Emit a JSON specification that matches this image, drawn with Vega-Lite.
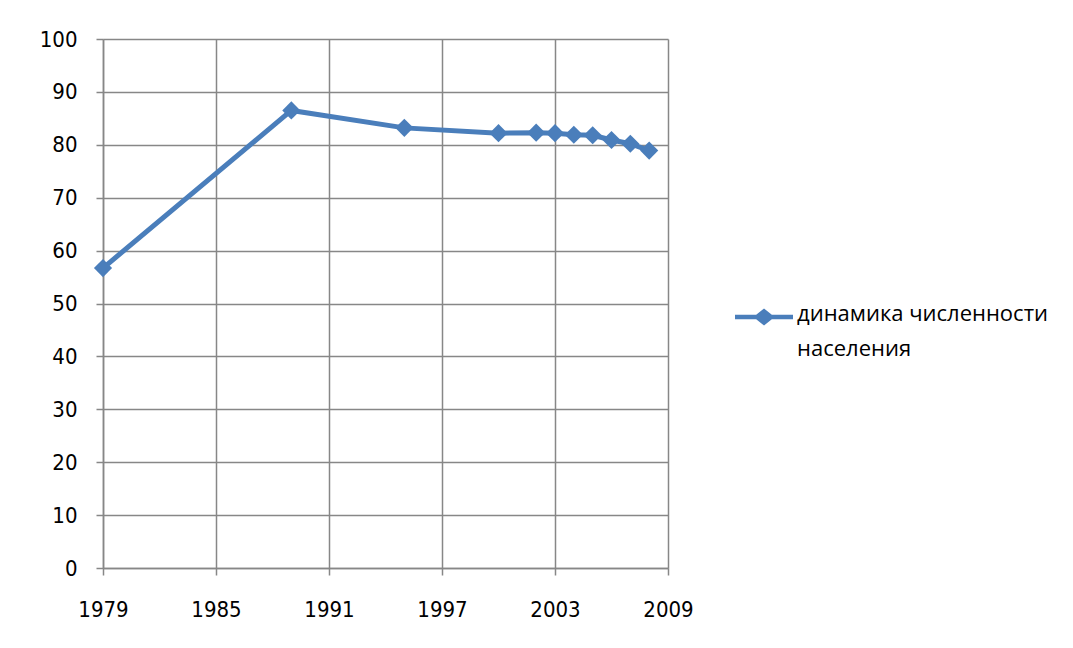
{
  "$schema": "https://vega.github.io/schema/vega-lite/v6.json",
  "autosize": {"type": "none"},
  "padding": {"left": 103, "top": 39, "right": 405, "bottom": 80},
  "width": 565,
  "height": 529,
  "background": "white",
  "config": {
    "view": {"stroke": null},
    "font": "DejaVu Sans Condensed"
  },
  "data": {
    "values": [
      {"year": 1979, "value": 56.7, "series": "динамика численности населения"},
      {"year": 1989, "value": 86.5, "series": "динамика численности населения"},
      {"year": 1995, "value": 83.2, "series": "динамика численности населения"},
      {"year": 2000, "value": 82.2, "series": "динамика численности населения"},
      {"year": 2002, "value": 82.3, "series": "динамика численности населения"},
      {"year": 2003, "value": 82.2, "series": "динамика численности населения"},
      {"year": 2004, "value": 81.9, "series": "динамика численности населения"},
      {"year": 2005, "value": 81.8, "series": "динамика численности населения"},
      {"year": 2006, "value": 80.9, "series": "динамика численности населения"},
      {"year": 2007, "value": 80.2, "series": "динамика численности населения"},
      {"year": 2008, "value": 78.9, "series": "динамика численности населения"}
    ]
  },
  "mark": {"type": "line", "strokeWidth": 5, "point": {"shape": "diamond", "size": 330, "filled": true, "opacity": 1}},
  "encoding": {
    "x": {
      "field": "year", "type": "quantitative",
      "scale": {"domain": [1979, 2009], "nice": false, "zero": false},
      "axis": {
        "title": null, "values": [1979, 1985, 1991, 1997, 2003, 2009], "format": "d",
        "grid": true, "gridColor": "#878787", "gridWidth": 1.5,
        "domainColor": "#878787", "domainWidth": 1.5,
        "tickColor": "#878787", "tickWidth": 1.5, "tickSize": 7,
        "labelFontSize": 22, "labelColor": "#000000", "labelPadding": 24,
        "labelFlush": false, "labelOverlap": false,
        "labelFont": "DejaVu Sans Condensed"
      }
    },
    "y": {
      "field": "value", "type": "quantitative",
      "scale": {"domain": [0, 100], "nice": false},
      "axis": {
        "title": null, "values": [0, 10, 20, 30, 40, 50, 60, 70, 80, 90, 100],
        "grid": true, "gridColor": "#878787", "gridWidth": 1.5,
        "domainColor": "#878787", "domainWidth": 1.5,
        "tickColor": "#878787", "tickWidth": 1.5, "tickSize": 7,
        "labelFontSize": 22, "labelColor": "#000000", "labelPadding": 19,
        "labelFlush": false, "labelOverlap": false,
        "labelFont": "DejaVu Sans Condensed"
      }
    },
    "color": {
      "field": "series", "type": "nominal",
      "scale": {"range": ["#4a7ebb"]},
      "legend": {
        "title": null, "orient": "none", "legendX": 632, "legendY": 249, "padding": 0,
        "symbolType": "M-1,-0.08L-0.27,-0.08L0,-0.29L0.27,-0.08L1,-0.08L1,0.08L0.27,0.08L0,0.29L-0.27,0.08L-1,0.08Z",
        "symbolSize": 3364, "symbolFillColor": "#4a7ebb", "symbolStrokeWidth": 0, "symbolOpacity": 1,
        "labelFontSize": 22, "labelFont": "Open Sans", "labelColor": "#000000",
        "labelExpr": "['динамика численности', 'населения']",
        "labelLimit": 400, "labelBaseline": "top", "labelOffset": 4,
        "encode": {
          "labels": {"update": {"lineHeight": {"value": 35}, "dy": {"value": -13}}},
          "symbols": {"update": {"fill": {"value": "#4a7ebb"}, "strokeWidth": {"value": 0}}}
        }
      }
    }
  }
}
